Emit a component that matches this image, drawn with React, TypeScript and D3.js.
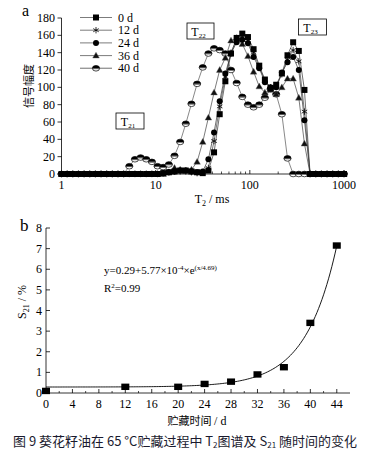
import React from "react";
import * as d3 from "d3";

// ---- Chart a data: T2 relaxation grid (ms) and signal amplitudes ----
const T2_GRID = [
  1, 1.148, 1.318, 1.514, 1.738, 1.995, 2.291, 2.63, 3.02, 3.467, 3.981, 4.571, 5.248, 6.026, 6.918, 7.943, 9.12,
  10.47, 12.02, 13.8, 15.85, 18.2, 20.89, 23.99, 27.54, 31.62, 36.31, 41.69, 47.86, 54.95, 63.1, 72.44, 83.18,
  95.5, 109.6, 125.9, 144.5, 166.0, 190.5, 218.8, 251.2, 288.4, 331.1, 380.2, 436.5, 501.2, 575.4, 660.7, 758.6,
  871.0, 1000,
];
const AMP_0D = [
  0, 0, 0, 0, 0, 0, 0, 0, 0, 0, 0, 0, 0, 0, 0, 0, 0, 0, 1, 2, 3, 4, 4, 3, 2, 1, 4, 25, 69, 107, 139, 157, 162, 158,
  144, 125, 109, 99, 103, 116, 137, 152, 142, 97, 0, 0, 0, 0, 0, 0, 0,
];
const AMP_12D = [
  0, 0, 0, 0, 0, 0, 0, 0, 0, 0, 0, 0, 0, 0, 0, 0, 0, 0, 1, 2, 3, 3, 3, 2, 1, 2, 7, 38, 78, 112, 140, 155, 158, 154,
  140, 123, 108, 100, 101, 115, 132, 143, 130, 72, 0, 0, 0, 0, 0, 0, 0,
];
const AMP_24D = [
  0, 0, 0, 0, 0, 0, 0, 0, 0, 0, 0, 0, 0, 0, 0, 0, 0, 0, 1, 2, 3, 4, 4, 3, 2, 3, 17, 48, 84, 116, 139, 152, 155, 151,
  135, 122, 106, 100, 100, 117, 129, 135, 120, 62, 0, 0, 0, 0, 0, 0, 0,
];
const AMP_36D = [
  0, 0, 0, 0, 0, 0, 0, 0, 0, 0, 0, 0, 0, 0, 0, 0, 0, 0, 0, 2, 7, 5, 4, 5, 14, 37, 65, 94, 120, 134, 154, 157, 150,
  136, 118, 101, 94, 97, 92, 100, 110, 110, 88, 35, 0, 0, 0, 0, 0, 0, 0,
];
const AMP_40D = [
  0, 0, 0, 0, 0, 0, 0, 0, 0, 0, 0, 0, 9, 17, 19, 17, 14, 9, 8, 11, 21, 37, 58, 81, 104, 123, 139, 145, 143, 139,
  120, 105, 89, 80, 77, 80, 88, 98, 92, 69, 18, 0, 0, 0, 0, 0, 0, 0, 0, 0, 0,
];
const SERIES_LABELS = ["0 d", "12 d", "24 d", "36 d", "40 d"];
const A_Y_TICKS = [0, 20, 40, 60, 80, 100, 120, 140, 160, 180];
const A_X_TICKS = [1, 10, 100, 1000];

// ---- Chart b data ----
const STORAGE_DAYS = [0, 12, 20, 24, 28, 32, 36, 40, 44];
const S21_VALUES = [0.1, 0.3, 0.3, 0.44, 0.55, 0.9, 1.25, 3.4, 7.15];
const B_X_TICKS = [0, 4, 8, 12, 16, 20, 24, 28, 32, 36, 40, 44];
const B_Y_TICKS = [0, 1, 2, 3, 4, 5, 6, 7, 8];
// fitted model shown in the chart: y = A + B * exp(x / C)
const FIT_A = 0.29;
const FIT_B = 5.77e-4;
const FIT_C = 4.69;

const SERIF = "'Liberation Serif', 'Times New Roman', serif";
const CJK = "'Noto Sans CJK SC', sans-serif";

type Shape = "square" | "star" | "circle" | "triangle" | "half";

function Marker({ x, y, shape }: { x: number; y: number; shape: Shape }) {
  switch (shape) {
    case "square":
      return <rect x={x - 3} y={y - 3} width={6} height={6} fill="#000" />;
    case "circle":
      return <circle cx={x} cy={y} r={3} fill="#000" />;
    case "triangle":
      return <path d={`M${x},${y - 3.4}L${x + 3.3},${y + 2.4}L${x - 3.3},${y + 2.4}Z`} fill="#111" stroke="#666" strokeWidth={0.4} />;
    case "star": {
      const r = 3.2;
      const segs = [90, 30, 150].map((a) => {
        const rad = (a * Math.PI) / 180;
        return `M${x - r * Math.cos(rad)},${y - r * Math.sin(rad)}L${x + r * Math.cos(rad)},${y + r * Math.sin(rad)}`;
      });
      return <path d={segs.join("")} stroke="#000" strokeWidth={0.8} fill="none" />;
    }
    case "half":
      return (
        <g>
          <ellipse cx={x} cy={y} rx={3.6} ry={2.8} fill="#fff" stroke="#000" strokeWidth={0.7} />
          <path d={`M${x - 3.6},${y}A3.6,2.8 0 0 1 ${x + 3.6},${y}Z`} fill="#000" />
          <line x1={x - 3.6} x2={x + 3.6} y1={y + 0.4} y2={y + 0.4} stroke="#000" strokeWidth={0.6} />
        </g>
      );
  }
}

function TBox({ x, y, w, sub }: { x: number; y: number; w: number; sub: string }) {
  return (
    <g>
      <rect x={x} y={y} width={w} height={16} fill="#fff" stroke="#000" strokeWidth={0.8} />
      <text x={x + w / 2 - 2} y={y + 12.5} textAnchor="middle" fontFamily={SERIF} fontSize={12}>
        T<tspan fontSize={7} dy={2}>{sub}</tspan>
      </text>
    </g>
  );
}

function ChartA() {
  const x = d3.scaleLog().domain([1, 1000]).range([61.5, 344]);
  const y = d3.scaleLinear().domain([0, 180]).range([174, 18]);
  const series: { vals: number[]; shape: Shape; stroke: string }[] = [
    { vals: AMP_0D, shape: "square", stroke: "#333" },
    { vals: AMP_12D, shape: "star", stroke: "#444" },
    { vals: AMP_24D, shape: "circle", stroke: "#333" },
    { vals: AMP_36D, shape: "triangle", stroke: "#444" },
    { vals: AMP_40D, shape: "half", stroke: "#555" },
  ];
  const line = d3
    .line<number>()
    .x((_, i) => x(T2_GRID[i]))
    .y((v) => y(v));
  const minor: number[] = [];
  [1, 10, 100].forEach((d) => {
    for (let k = 2; k <= 9; k++) minor.push(d * k);
  });
  const drawOrder = [4, 3, 2, 1, 0];
  return (
    <g>
      <text x={22} y={16} fontFamily={SERIF} fontSize={16}>a</text>
      {/* axes */}
      <line x1={61.5} x2={61.5} y1={174} y2={18} stroke="#000" strokeWidth={0.8} />
      <line x1={61.5} x2={344} y1={174} y2={174} stroke="#000" strokeWidth={0.8} />
      {A_Y_TICKS.map((t) => (
        <g key={t}>
          <line x1={57.5} x2={61.5} y1={y(t)} y2={y(t)} stroke="#000" strokeWidth={0.8} />
          <text x={55} y={y(t) + 4} textAnchor="end" fontFamily={SERIF} fontSize={12}>{t}</text>
        </g>
      ))}
      {A_X_TICKS.map((t) => (
        <g key={t}>
          <line x1={x(t)} x2={x(t)} y1={174} y2={170} stroke="#000" strokeWidth={0.8} />
          <text x={x(t)} y={189} textAnchor="middle" fontFamily={SERIF} fontSize={12}>{t}</text>
        </g>
      ))}
      {minor.map((t) => (
        <line key={t} x1={x(t)} x2={x(t)} y1={174} y2={171.5} stroke="#000" strokeWidth={0.7} />
      ))}
      <text x={212} y={203} textAnchor="middle" fontFamily={SERIF} fontSize={12}>
        T<tspan fontSize={8} dy={3}>2</tspan><tspan dy={-3}> / ms</tspan>
      </text>
      <text transform="translate(33,86) rotate(-90)" textAnchor="middle" fontFamily={CJK} fontSize={11}>信号幅度</text>
      {/* lines */}
      {drawOrder.map((si) => (
        <path key={"l" + si} d={line(series[si].vals) || ""} fill="none" stroke={series[si].stroke} strokeWidth={0.7} />
      ))}
      {drawOrder.map((si) => (
        <g key={"m" + si}>
          {series[si].vals.map((v, i) => (
            <Marker key={i} x={x(T2_GRID[i])} y={y(v)} shape={series[si].shape} />
          ))}
        </g>
      ))}
      {/* legend */}
      {SERIES_LABELS.map((lab, i) => {
        const ly = 17.5 + i * 12.7;
        return (
          <g key={lab}>
            <line x1={80} x2={112} y1={ly} y2={ly} stroke={i === 4 ? "#999" : "#444"} strokeWidth={i === 4 ? 1.4 : 0.7} />
            <Marker x={96} y={ly} shape={series[i].shape} />
            <text x={118} y={ly + 4} fontFamily={SERIF} fontSize={12}>{lab}</text>
          </g>
        );
      })}
      <TBox x={116} y={113} w={28} sub="21" />
      <TBox x={187} y={23} w={27} sub="22" />
      <TBox x={298.5} y={19} w={28} sub="23" />
    </g>
  );
}

function ChartB() {
  const x = d3.scaleLinear().domain([0, 46]).range([46, 350]);
  const y = d3.scaleLinear().domain([0, 8]).range([393, 228]);
  const fitX = d3.range(0, 44.01, 0.25);
  const fit = d3
    .line<number>()
    .x((d) => x(d))
    .y((d) => y(FIT_A + FIT_B * Math.exp(d / FIT_C)));
  const minorX = d3.range(2, 46, 4);
  return (
    <g>
      <text x={20} y={231} fontFamily={SERIF} fontSize={17}>b</text>
      <line x1={46} x2={46} y1={393} y2={228} stroke="#000" strokeWidth={0.8} />
      <line x1={46} x2={350} y1={393} y2={393} stroke="#000" strokeWidth={0.8} />
      {B_Y_TICKS.map((t) => (
        <g key={t}>
          <line x1={46} x2={50} y1={y(t)} y2={y(t)} stroke="#000" strokeWidth={0.8} />
          <text x={42} y={y(t) + 4} textAnchor="end" fontFamily={SERIF} fontSize={12}>{t}</text>
        </g>
      ))}
      {B_X_TICKS.map((t) => (
        <g key={t}>
          <line x1={x(t)} x2={x(t)} y1={393} y2={389} stroke="#000" strokeWidth={0.8} />
          <text x={x(t)} y={408} textAnchor="middle" fontFamily={SERIF} fontSize={12}>{t}</text>
        </g>
      ))}
      {minorX.map((t) => (
        <line key={t} x1={x(t)} x2={x(t)} y1={393} y2={391} stroke="#000" strokeWidth={0.7} />
      ))}
      <path d={fit(fitX) || ""} fill="none" stroke="#000" strokeWidth={0.9} />
      {STORAGE_DAYS.map((d, i) => (
        <rect key={d} x={x(d) - 4} y={y(S21_VALUES[i]) - 3.2} width={8} height={6.4} fill="#000" />
      ))}
      <text x={104} y={274} fontFamily={SERIF} fontSize={11}>
        y=0.29+5.77×10<tspan fontSize={7} dy={-4}>-4</tspan>
        <tspan dy={4}>×e</tspan>
        <tspan fontSize={7} dy={-4}>(x/4.69)</tspan>
      </text>
      <text x={104} y={292} fontFamily={SERIF} fontSize={11}>
        R<tspan fontSize={7} dy={-4}>2</tspan><tspan dy={4}>=0.99</tspan>
      </text>
      <text transform="translate(26,302) rotate(-90)" textAnchor="middle" fontFamily={SERIF} fontSize={12}>
        S<tspan fontSize={8} dy={3}>21</tspan><tspan dy={-3}> / %</tspan>
      </text>
      <text x={197} y={425} textAnchor="middle" fontFamily={CJK} fontSize={11}>
        贮藏时间 <tspan fontFamily={SERIF} fontSize={12}> / d</tspan>
      </text>
    </g>
  );
}

export default function App() {
  return (
    <svg
      width={378}
      height={458}
      viewBox="0 0 378 458"
      style={{ position: "absolute", left: 0, top: 0, background: "#fff" }}
    >
      <rect width={378} height={458} fill="#fff" />
      <ChartA />
      <ChartB />
      <text x={13} y={446} fontFamily={CJK} fontSize={13} fill="#1a1a2e">
        图 9  葵花籽油在 65 °C贮藏过程中 T<tspan fontSize={8} dy={2}>2</tspan>
        <tspan dy={-2}>图谱及 S</tspan>
        <tspan fontSize={8} dy={2}>21</tspan>
        <tspan dy={-2}> 随时间的变化</tspan>
      </text>
    </svg>
  );
}
